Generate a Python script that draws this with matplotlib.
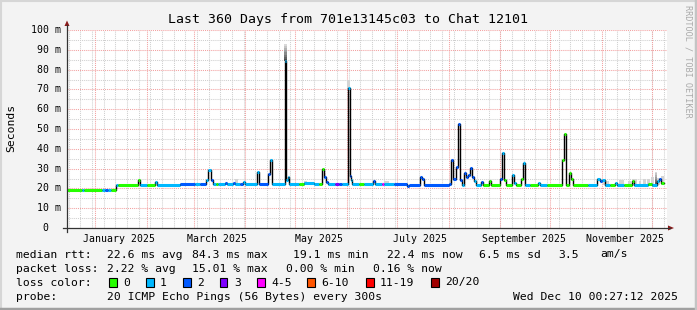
import numpy as np
import matplotlib
matplotlib.use("Agg")
import matplotlib.pyplot as plt
import matplotlib.transforms as mtransforms
from matplotlib.patches import Rectangle, Polygon
from matplotlib.lines import Line2D
from datetime import datetime, timedelta

# === DATA ===
# time axis: 360 days ending Wed Dec 10 00:27:12 2025, x in days since start
t_end = datetime(2025, 12, 10, 0, 27, 12)
t0 = t_end - timedelta(days=360)

# median rtt (ms) as steps: start day, value, loss colour index
seg_day = [0.0, 9.0, 10.2, 20.9, 22.7, 24.5, 26.3, 29.6, 30.4, 42.5,
           43.7, 47.8, 52.6, 53.8, 67.6, 76.6, 79.5, 83.1, 84.6, 86.1,
           87.6, 89.1, 90.3, 94.5, 96.0, 99.3, 101.0, 103.5, 105.5, 106.5,
           113.9, 115.4, 120.5, 121.7, 123.2, 130.7, 131.6, 132.5, 133.4, 139.4,
           142.3, 148.3, 151.3, 153.1, 154.3, 155.5, 156.7, 160.9, 163.3, 165.1,
           168.4, 169.6, 170.5, 171.1, 175.2, 178.2, 183.3, 184.5, 189.0, 190.2,
           196.2, 203.9, 205.1, 212.0, 213.2, 214.4, 229.1, 230.6, 231.8, 233.3,
           234.4, 235.6, 236.8, 238.0, 239.2, 240.4, 241.6, 242.8, 244.0, 245.2,
           248.2, 249.4, 253.0, 254.2, 259.6, 260.8, 262.0, 263.2, 266.7, 267.9,
           269.1, 272.4, 273.3, 274.5, 278.0, 282.6, 283.8, 288.0, 297.0, 298.4,
           299.6, 301.1, 302.3, 303.8, 312.8, 317.9, 319.7, 320.9, 322.7, 326.0,
           329.0, 330.1, 334.3, 339.1, 340.3, 348.7, 351.0, 354.1, 355.3, 356.5]
seg_med = [19.2, 19.2, 19.2, 19.2, 19.2, 19.2, 19.2, 21.5, 21.5, 24.0,
           21.8, 21.6, 23.4, 21.6, 22.0, 22.0, 22.2, 24.0, 29.5, 24.2,
           22.0, 22.0, 22.4, 22.8, 22.2, 22.6, 22.2, 22.2, 23.2, 22.2,
           28.5, 22.0, 27.3, 34.3, 22.4, 84.3, 24.0, 26.0, 22.4, 22.4,
           22.6, 22.4, 22.4, 30.0, 26.0, 23.0, 22.4, 22.4, 22.4, 22.4,
           70.8, 26.5, 24.0, 22.4, 22.2, 22.2, 23.5, 22.2, 22.2, 22.2,
           22.0, 21.3, 21.9, 26.0, 24.5, 21.9, 22.0, 34.3, 25.0, 31.0,
           52.5, 24.0, 21.5, 28.0, 26.0, 27.0, 30.5, 26.0, 23.5, 21.5,
           23.0, 21.5, 23.5, 21.5, 24.7, 37.7, 24.0, 21.5, 26.6, 22.9,
           21.5, 25.0, 33.0, 21.5, 21.5, 22.9, 21.5, 21.5, 34.3, 47.5,
           21.5, 27.6, 25.0, 21.5, 21.5, 24.9, 23.5, 24.2, 21.8, 21.5,
           22.5, 21.5, 21.5, 23.5, 21.8, 22.0, 21.8, 23.8, 24.5, 22.5]
seg_loss = [0, 1, 0, 1, 2, 1, 0, 1, 0, 0,
            1, 0, 1, 1, 2, 1, 2, 1, 1, 2,
            1, 0, 1, 2, 1, 2, 1, 2, 1, 1,
            1, 2, 2, 1, 1, 1, 1, 1, 1, 0,
            1, 1, 0, 0, 2, 2, 1, 3, 2, 1,
            1, 2, 1, 1, 0, 1, 2, 1, 4, 1,
            2, 2, 2, 2, 2, 2, 2, 2, 2, 2,
            2, 2, 1, 2, 2, 2, 2, 2, 1, 1,
            2, 0, 0, 0, 2, 1, 0, 0, 1, 1,
            0, 0, 1, 1, 0, 1, 1, 0, 0, 0,
            0, 0, 0, 0, 1, 1, 2, 1, 1, 0,
            1, 1, 0, 0, 1, 0, 1, 1, 2, 0]
last_day = 358.0

# smoke (spread of the pings): start day, end day, low ms, high ms
smoke_start = [101.0, 130.4, 142.3, 154.3, 168.1, 190.2, 229.1, 321.5, 331.0,
               336.5, 339.5, 343.0, 345.5, 348.0, 350.5, 352.5, 354.0, 356.5]
smoke_end = [102.5, 131.9, 144.0, 155.5, 169.9, 193.0, 230.6, 325.0, 334.0,
             338.5, 342.0, 344.5, 347.5, 350.0, 352.0, 353.8, 356.0, 358.0]
smoke_low = [22.0, 84.3, 22.0, 26.0, 70.8, 22.0, 22.0, 21.5, 21.5,
             21.5, 21.5, 21.5, 21.5, 21.5, 21.5, 21.5, 21.5, 21.5]
smoke_high = [24.5, 93.0, 23.8, 28.0, 75.0, 23.8, 24.0, 23.5, 24.0,
              23.8, 24.5, 23.5, 25.0, 24.8, 26.0, 28.5, 25.5, 26.5]

loss_colors = ['#26ff00', '#00b8ff', '#0059ff', '#7e00ff', '#ff00ff', '#ff5500', '#ff0000', '#a10000']
loss_labels = ['0', '1', '2', '3', '4-5', '6-10', '11-19', '20/20']

y_ticks = [0, 10, 20, 30, 40, 50, 60, 70, 80, 90, 100]
month_labels = [(2025, 1), (2025, 3), (2025, 5), (2025, 7), (2025, 9), (2025, 11)]

# === FIGURE ===
W, H = 697, 310
MONO = 'DejaVu Sans Mono'
BG = '#f3f3f3'

def fx(x):
    return x / W

def fy(y):
    return 1 - y / H

def day_of(dt):
    return (dt - t0).total_seconds() / 86400.0

fig = plt.figure(figsize=(W / 100, H / 100), dpi=100, facecolor=BG)
ax = fig.add_axes([fx(67), fy(228), 600 / W, 198 / H])
ax.set_facecolor('white')
ax.set_xlim(0, 360)
ax.set_ylim(0, 100)
for s in ax.spines.values():
    s.set_visible(False)
ax.set_xticks([])
ax.set_yticks([])

# --- grid ---
dot = (0, (1, 1))
for v in range(5, 100, 10):
    ax.axhline(v, color='#cfcfcf', lw=0.75, ls=dot, zorder=1)
for v in range(10, 101, 10):
    ax.axhline(v, color='#f2a0a0', lw=0.75, ls=dot, zorder=1.1)

monday = datetime(2024, 12, 16)
while monday < t_end:
    ax.axvline(day_of(monday), color='#cfcfcf', lw=0.75, ls=dot, zorder=1)
    monday += timedelta(days=7)
month_starts = [datetime(2025, m, 1) for m in range(1, 13)]
for ms in month_starts:
    ax.axvline(day_of(ms), color='#f2a0a0', lw=0.75, ls=dot, zorder=1.1)

# --- smoke ---
for s0, s1, lo, hi in zip(smoke_start, smoke_end, smoke_low, smoke_high):
    if hi - lo > 5:
        n = 8
        edges = np.linspace(lo, hi, n + 1)
        shades = np.linspace(0.30, 0.85, n)
        for k in range(n):
            ax.fill_between([s0, s1], edges[k], edges[k + 1], color=str(shades[k]), lw=0, zorder=2)
    else:
        ax.fill_between([s0, s1], lo, hi, color='#d4d4d4', lw=0, zorder=2)

# --- median line ---
ends = seg_day[1:] + [last_day]
ax.step(seg_day + [last_day], seg_med + [seg_med[-1]], where='post',
        color='black', lw=1.0, zorder=3)
ax.hlines(seg_med, seg_day, ends, colors=[loss_colors[i] for i in seg_loss],
          lw=2.2, zorder=4)

# --- axes with arrows ---
axis_col = '#333333'
arrow_col = '#8b1a1a'
fig.add_artist(Line2D([fx(63), fx(670)], [fy(228), fy(228)], color=axis_col, lw=0.9))
fig.add_artist(Line2D([fx(67), fx(67)], [fy(232), fy(25)], color=axis_col, lw=0.9))
fig.add_artist(Polygon([[fx(668), fy(225.5)], [fx(668), fy(230.5)], [fx(674), fy(228)]],
                       closed=True, color=arrow_col, lw=0))
fig.add_artist(Polygon([[fx(64.5), fy(26)], [fx(69.5), fy(26)], [fx(67), fy(20.5)]],
                       closed=True, color=arrow_col, lw=0))

# --- tick labels ---
ytr = mtransforms.blended_transform_factory(fig.transFigure, ax.transData)
for v in y_ticks:
    if v == 0:
        ax.text(fx(48.5), v, '0', transform=ytr, ha='right', va='center',
                family=MONO, fontsize=7.1)
    else:
        ax.text(fx(60.5), v, f'{v} m', transform=ytr, ha='right', va='center',
                family=MONO, fontsize=7.1)

xtr = mtransforms.blended_transform_factory(ax.transData, fig.transFigure)
for yr, mo in month_labels:
    d = day_of(datetime(yr, mo, 15))
    ax.text(d, fy(238.5), datetime(yr, mo, 1).strftime('%B %Y'), transform=xtr,
            ha='center', va='center', family=MONO, fontsize=7.1)

# --- titles ---
fig.text(fx(348), fy(19), 'Last 360 Days from 701e13145c03 to Chat 12101',
         ha='center', va='center', family=MONO, fontsize=9.5)
fig.text(fx(11), fy(128), 'Seconds', rotation=90, ha='center', va='center',
         family=MONO, fontsize=8.2)
fig.text(fx(688), fy(5), 'RRDTOOL / TOBI OETIKER', rotation=-90, ha='center', va='top',
         family=MONO, fontsize=6.1, color='#aaaaaa')

# --- legend ---
fs = 8.2
row1 = [(16, 'median rtt:'), (107, '22.6 ms avg'), (192, '84.3 ms max'),
        (293, '19.1 ms min'), (387, '22.4 ms now'), (479, '6.5 ms sd'),
        (558, '3.5'), (600, 'am/s')]
row2 = [(16, 'packet loss:'), (107, '2.22 % avg'), (192, '15.01 % max'),
        (286, '0.00 % min'), (373, '0.16 % now')]
for x, s in row1:
    fig.text(fx(x), fy(254.5), s, ha='left', va='center', family=MONO, fontsize=fs)
for x, s in row2:
    fig.text(fx(x), fy(268.5), s, ha='left', va='center', family=MONO, fontsize=fs)

fig.text(fx(16), fy(282.5), 'loss color:', ha='left', va='center', family=MONO, fontsize=fs)
box_x = [109, 146, 183, 220, 257, 307, 366, 431]
for bx, col, lab in zip(box_x, loss_colors, loss_labels):
    fig.add_artist(Rectangle((fx(bx), fy(287)), 7.5 / W, 9 / H, facecolor=col,
                             edgecolor='black', lw=0.8))
    fig.text(fx(bx + 14), fy(282.5), lab, ha='left', va='center', family=MONO, fontsize=fs)

fig.text(fx(16), fy(296.8), 'probe:', ha='left', va='center', family=MONO, fontsize=fs)
fig.text(fx(107), fy(296.8), '20 ICMP Echo Pings (56 Bytes) every 300s',
         ha='left', va='center', family=MONO, fontsize=fs)
fig.text(fx(513), fy(296.8), 'Wed Dec 10 00:27:12 2025',
         ha='left', va='center', family=MONO, fontsize=fs)

# --- 3d frame ---
fig.add_artist(Line2D([0, 1], [fy(0.5), fy(0.5)], color='#d6d6d6', lw=1.5))
fig.add_artist(Line2D([fx(0.5), fx(0.5)], [0, 1], color='#d6d6d6', lw=1.5))
fig.add_artist(Line2D([0, 1], [fy(308.5), fy(308.5)], color='#a0a0a0', lw=2.5))
fig.add_artist(Line2D([fx(695.5), fx(695.5)], [0, 1], color='#c4c4c4', lw=2.5))

fig.savefig('out.png', dpi=100, facecolor=BG)
